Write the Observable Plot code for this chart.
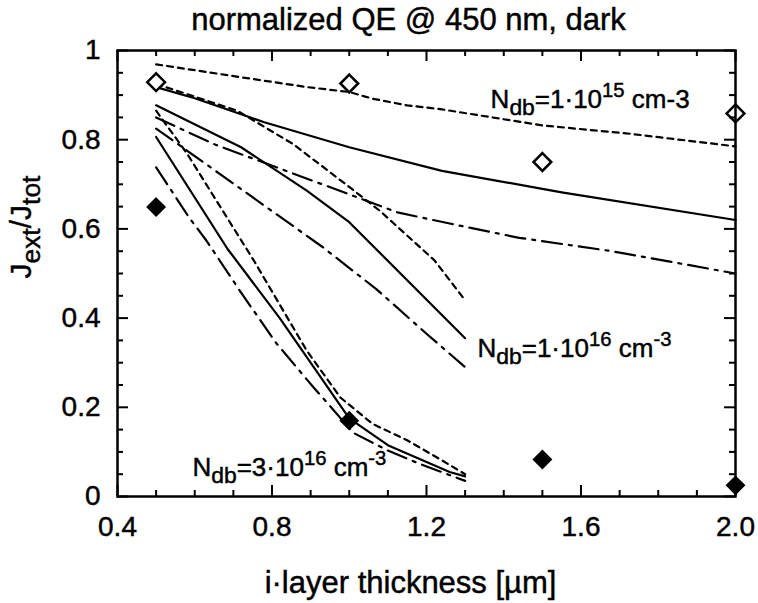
<!DOCTYPE html>
<html><head><meta charset="utf-8">
<script src="https://cdn.jsdelivr.net/npm/d3@7"></script>
<script src="https://cdn.jsdelivr.net/npm/@observablehq/plot@0.6"></script>
<style>html,body{margin:0;padding:0;background:#fff;} #chart svg text{stroke:#000;stroke-width:0.45px;}</style>
</head><body><div id="chart"></div>
<script>
// ---- data ----
const titleText = "normalized QE @ 450 nm, dark";
const xLabelText = "i·layer thickness [µm]";
const yLabelText = "Jext/Jtot";

const xMajorTicks = [0.4, 0.8, 1.2, 1.6, 2.0];
const xMinorTicks = [0.5, 0.6, 0.7, 0.9, 1.0, 1.1, 1.3, 1.4, 1.5, 1.7, 1.8, 1.9];
const yMajorTicks = [0, 0.2, 0.4, 0.6, 0.8, 1];
const yMinorTicks = [0.05, 0.1, 0.15, 0.25, 0.3, 0.35, 0.45, 0.5, 0.55, 0.65, 0.7, 0.75, 0.85, 0.9, 0.95];

// Ndb = 1e15 cm-3
const dotted15 = [[0.5,0.969],[0.72,0.94],[0.89,0.918],[1.0,0.907],[1.06,0.892],[1.15,0.877],[1.24,0.868],[1.5,0.832],[1.73,0.813],[2.0,0.785]];
const solid15 = [[0.5,0.918],[0.6,0.893],[0.78,0.839],[1.0,0.783],[1.24,0.73],[1.55,0.682],[2.0,0.62]];
const dashdot15 = [[0.5,0.85],[0.65,0.79],[0.93,0.70],[1.125,0.637],[1.26,0.612],[1.44,0.58],[1.68,0.55],[2.0,0.50]];
// Ndb = 1e16 cm-3
const dotted16 = [[0.5,0.925],[0.71,0.865],[0.855,0.79],[1.0,0.694],[1.08,0.64],[1.22,0.53],[1.3,0.44]];
const solid16 = [[0.5,0.877],[0.72,0.783],[0.89,0.686],[1.0,0.615],[1.3,0.355]];
const dashdot16 = [[0.5,0.825],[0.67,0.72],[0.8,0.64],[0.93,0.56],[1.07,0.465],[1.2,0.365],[1.3,0.29]];
// Ndb = 3e16 cm-3
const dotted3e16 = [[0.5,0.865],[0.58,0.769],[0.753,0.529],[0.89,0.327],[0.977,0.222],[1.06,0.163],[1.15,0.126],[1.24,0.081],[1.3,0.05]];
const solid3e16 = [[0.5,0.806],[0.685,0.555],[0.82,0.40],[1.0,0.175],[1.1,0.115],[1.26,0.055],[1.3,0.045]];
const dashdot3e16 = [[0.5,0.738],[0.585,0.626],[0.63,0.574],[0.72,0.457],[0.81,0.345],[0.91,0.242],[0.945,0.208],[1.01,0.143],[1.1,0.103],[1.18,0.074],[1.3,0.035]];
// measured points
const openDiamonds = [[0.5,0.929],[1.0,0.926],[1.5,0.75],[2.0,0.859]];
const filledDiamonds = [[0.5,0.649],[1.0,0.170],[1.5,0.083],[2.0,0.025]];
// curve labels
const curveLabels = ["Ndb=1·1015 cm-3", "Ndb=1·1016 cm-3", "Ndb=3·1016 cm-3"];
const curveLabelX = [1.366, 1.332, 0.594];
const curveLabelY = [0.89, 0.332, 0.065];

// ---- layout ----
const W = 758, H = 603;
const mT = 50, mR = 23, mB = 107, mL = 117;
const innerW = W - mL - mR, innerH = H - mT - mB;
const FONT = "'Liberation Sans', Arial, Helvetica, sans-serif";
const DOT = "6,5", DASHDOT = "20,7,3,7";
const X0 = 0.4, X1 = 2.0, Y0 = 0, Y1 = 1;
// tick lengths (pixels) expressed in data units
const majLen = 11, minLen = 6;
const xLen = px => px / innerW * (X1 - X0);
const yLen = px => px / innerH * (Y1 - Y0);

const lineOpts = (dash) => ({x: d => d[0], y: d => d[1], stroke: "black", strokeWidth: 2.2, strokeDasharray: dash});
const lbl = curveLabels.map((t, i) => ({t, x: curveLabelX[i], y: curveLabelY[i]}));
const tk = {stroke: "black", strokeWidth: 2};

const svg = Plot.plot({
  width: W, height: H,
  marginTop: mT, marginRight: mR, marginBottom: mB, marginLeft: mL,
  style: {fontFamily: FONT, fontSize: "28px", color: "black", background: "white", overflow: "visible"},
  x: {domain: [X0, X1], ticks: xMajorTicks, tickSize: 0, tickPadding: 20, tickFormat: d => d.toFixed(1), label: null},
  y: {domain: [Y0, Y1], ticks: yMajorTicks, tickSize: 0, tickPadding: 17, tickFormat: d => (d === 0 || d === 1) ? String(d) : d.toFixed(1), label: null},
  marks: [
    Plot.line(dotted15, lineOpts(DOT)),
    Plot.line(solid15, lineOpts(null)),
    Plot.line(dashdot15, lineOpts(DASHDOT)),
    Plot.line(dotted16, lineOpts(DOT)),
    Plot.line(solid16, lineOpts(null)),
    Plot.line(dashdot16, lineOpts(DASHDOT)),
    Plot.line(dotted3e16, lineOpts(DOT)),
    Plot.line(solid3e16, lineOpts(null)),
    Plot.line(dashdot3e16, lineOpts(DASHDOT)),
    Plot.dot(openDiamonds, {x: d => d[0], y: d => d[1], symbol: "diamond2", r: 8, stroke: "black", strokeWidth: 2.5, fill: "white"}),
    Plot.dot(filledDiamonds, {x: d => d[0], y: d => d[1], symbol: "diamond2", r: 8, fill: "black", stroke: "black"}),
    Plot.frame({stroke: "black", strokeWidth: 2.5}),
    // inward ticks on all four sides
    Plot.ruleX(xMajorTicks, {x: d => d, y1: Y0, y2: Y0 + yLen(majLen), ...tk}),
    Plot.ruleX(xMinorTicks, {x: d => d, y1: Y0, y2: Y0 + yLen(minLen), ...tk}),
    Plot.ruleX(xMajorTicks, {x: d => d, y1: Y1 - yLen(majLen), y2: Y1, ...tk}),
    Plot.ruleX(xMinorTicks, {x: d => d, y1: Y1 - yLen(minLen), y2: Y1, ...tk}),
    Plot.ruleY(yMajorTicks, {y: d => d, x1: X0, x2: X0 + xLen(majLen), ...tk}),
    Plot.ruleY(yMinorTicks, {y: d => d, x1: X0, x2: X0 + xLen(minLen), ...tk}),
    Plot.ruleY(yMajorTicks, {y: d => d, x1: X1 - xLen(majLen), x2: X1, ...tk}),
    Plot.ruleY(yMinorTicks, {y: d => d, x1: X1 - xLen(minLen), x2: X1, ...tk}),
    Plot.text(lbl, {x: "x", y: "y", text: "t", textAnchor: "start", lineAnchor: "middle", fontSize: 26, fill: "black"}),
    Plot.text([titleText], {text: d => d, frameAnchor: "top", dy: -30, dx: -18, lineAnchor: "middle", fontSize: 31, fill: "black"}),
    Plot.text([xLabelText], {text: d => d, frameAnchor: "bottom", dy: 87, dx: -16, lineAnchor: "middle", fontSize: 31, fill: "black"}),
    Plot.text([yLabelText], {text: d => d, frameAnchor: "left", rotate: -90, dx: -96, dy: 5, lineAnchor: "middle", fontSize: 30, fill: "black"})
  ]
});

// rich text (subscripts / superscripts)
const richMap = {
  "Ndb=1·1015 cm-3": {fs: 26, parts: [["N"],["db","sub"],["=1·10"],["15","sup"],[" cm-3"]]},
  "Ndb=1·1016 cm-3": {fs: 26, parts: [["N"],["db","sub"],["=1·10"],["16","sup"],[" cm"],["-3","sup"]]},
  "Ndb=3·1016 cm-3": {fs: 26, parts: [["N"],["db","sub"],["=3·10"],["16","sup"],[" cm"],["-3","sup"]]},
  "Jext/Jtot": {fs: 30, parts: [["J"],["ext","sub"],["/J"],["tot","sub"]]}
};
d3.select(svg).selectAll("text").each(function() {
  const r = richMap[this.textContent];
  if (!r) return;
  const el = d3.select(this);
  el.text(null);
  let cur = 0;
  for (const [t, kind] of r.parts) {
    const target = kind === "sub" ? 0.28 * r.fs : kind === "sup" ? -0.42 * r.fs : 0;
    const ts = el.append("tspan").text(t).attr("dy", (target - cur) + "px");
    if (kind) ts.attr("font-size", (kind === "sub" ? 0.88 : 0.78) * r.fs + "px");
    cur = target;
  }
});

document.getElementById("chart").appendChild(svg);
</script></body></html>
